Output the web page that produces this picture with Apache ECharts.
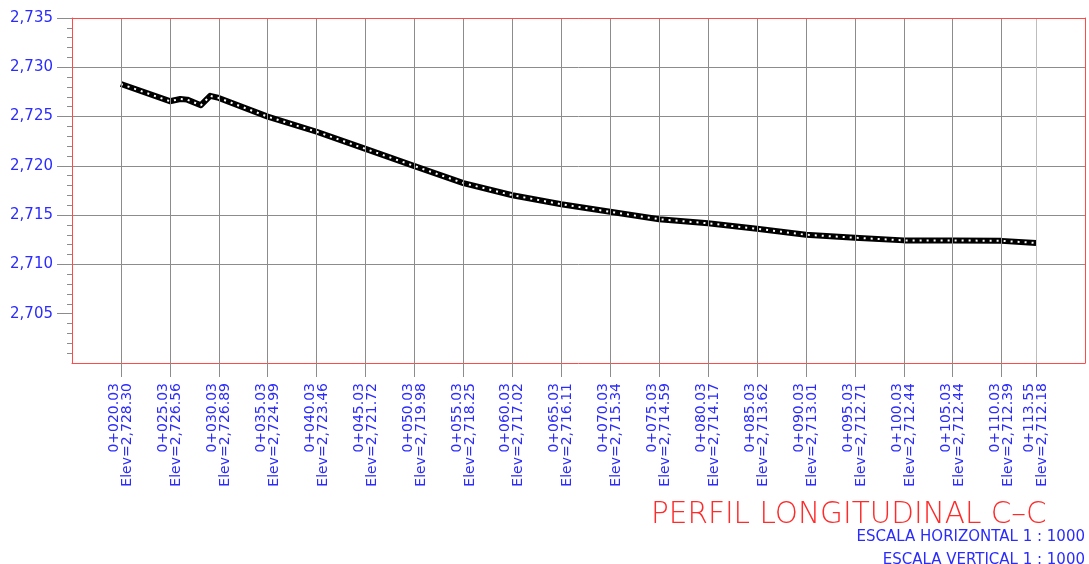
<!DOCTYPE html>
<html>
<head>
<meta charset="utf-8">
<script src="https://cdn.jsdelivr.net/npm/echarts@6/dist/echarts.min.js"></script>
<style>
  html, body { margin: 0; padding: 0; background: #fff; }
  #chart { width: 1089px; height: 564px; }
</style>
</head>
<body>
<div id="chart"></div>
<script>
// stations (m) and labels along the profile
const stations = [20.03, 25.03, 30.03, 35.03, 40.03, 45.03, 50.03, 55.03, 60.03, 65.03,
  70.03, 75.03, 80.03, 85.03, 90.03, 95.03, 100.03, 105.03, 110.03, 113.55];
const stationLabels = ['0+020.03', '0+025.03', '0+030.03', '0+035.03', '0+040.03', '0+045.03',
  '0+050.03', '0+055.03', '0+060.03', '0+065.03', '0+070.03', '0+075.03', '0+080.03',
  '0+085.03', '0+090.03', '0+095.03', '0+100.03', '0+105.03', '0+110.03', '0+113.55'];
const elevLabels = ['2,728.30', '2,726.56', '2,726.89', '2,724.99', '2,723.46', '2,721.72',
  '2,719.98', '2,718.25', '2,717.02', '2,716.11', '2,715.34', '2,714.59', '2,714.17',
  '2,713.62', '2,713.01', '2,712.71', '2,712.44', '2,712.44', '2,712.39', '2,712.18'];

// ground profile (station, elevation)
const profileX = [20.03, 25.03, 26.1, 26.8, 28.2, 29.15, 30.03, 35.03, 40.03, 45.03, 50.03,
  55.03, 60.03, 65.03, 70.03, 75.03, 80.03, 85.03, 90.03, 95.03, 100.03, 105.03, 110.03, 113.55];
const profileY = [2728.30, 2726.56, 2726.78, 2726.72, 2726.15, 2727.10, 2726.89, 2724.99,
  2723.46, 2721.72, 2719.98, 2718.25, 2717.02, 2716.11, 2715.34, 2714.59, 2714.17, 2713.62,
  2713.01, 2712.71, 2712.44, 2712.44, 2712.39, 2712.18];

const yTicks = [2705, 2710, 2715, 2720, 2725, 2730, 2735];

const profile = profileX.map((x, i) => [x, profileY[i]]);

const RED = '#ff4a4a';
const BLUE = '#2b2bff';
const GRID = '#8c8c8c';
const FONT = 'DejaVu Sans';

const chart = echarts.init(document.getElementById('chart'), null, { renderer: 'canvas' });

// last station line is lighter; the 2,700 line is the frame itself
const vColors = stations.map((s, i) => i === stations.length - 1 ? '#bdbdbd' : GRID);
const hColors = ['rgba(0,0,0,0)', GRID, GRID, GRID, GRID, GRID, GRID, GRID];

chart.setOption({
  animation: false,
  backgroundColor: '#fff',
  title: [
    {
      text: 'PERFIL LONGITUDINAL C–C',
      left: 651, top: 500, padding: 0,
      textStyle: { color: '#ff2a2a', fontFamily: FONT, fontWeight: 200, fontSize: 29.5 }
    },
    {
      text: 'ESCALA HORIZONTAL 1 : 1000',
      right: 4, top: 530, padding: 0,
      textStyle: { color: BLUE, fontFamily: FONT, fontWeight: 'normal', fontSize: 15 }
    },
    {
      text: 'ESCALA VERTICAL 1 : 1000',
      right: 4, top: 553, padding: 0,
      textStyle: { color: BLUE, fontFamily: FONT, fontWeight: 'normal', fontSize: 15 }
    }
  ],
  grid: { left: 72, top: 18, right: 4, bottom: 201, containLabel: false },
  xAxis: [
    {
      type: 'value', position: 'bottom', z: 10,
      min: 15.03, max: 118.55,
      axisLine: { show: true, onZero: false, lineStyle: { color: RED, width: 1 } },
      axisTick: { show: true, customValues: stations, length: 14, lineStyle: { color: GRID } },
      axisLabel: {
        customValues: stations, rotate: 90, margin: 20,
        color: BLUE, fontFamily: FONT, fontSize: 14, lineHeight: 13,
        formatter: function (v) {
          let k = 0;
          stations.forEach((s, i) => { if (Math.abs(s - v) < Math.abs(stations[k] - v)) k = i; });
          return stationLabels[k] + '\nElev=' + elevLabels[k];
        }
      },
      splitLine: { show: true, lineStyle: { color: vColors, width: 1 } }
    },
    {
      type: 'value', position: 'top',
      min: 15.03, max: 118.55, z: 10,
      axisLine: { show: true, onZero: false, lineStyle: { color: RED, width: 1 } },
      axisTick: { show: false }, axisLabel: { show: false }, splitLine: { show: false }
    }
  ],
  yAxis: [
    {
      type: 'value', position: 'left',
      min: 2700, max: 2735, interval: 5,
      axisLine: { show: true, onZero: false, lineStyle: { color: RED, width: 1 } },
      axisTick: { show: true, customValues: yTicks, length: 15, lineStyle: { color: GRID } },
      minorTick: { show: true, splitNumber: 5, length: 5, lineStyle: { color: GRID } },
      axisLabel: {
        customValues: yTicks, margin: 19,
        color: BLUE, fontFamily: FONT, fontSize: 15,
        formatter: v => Math.floor(v / 1000) + ',' + String(v % 1000).padStart(3, '0')
      },
      splitLine: { show: true, lineStyle: { color: hColors, width: 1 } }
    },
    {
      type: 'value', position: 'right',
      min: 2700, max: 2735, z: 10,
      axisLine: { show: true, onZero: false, lineStyle: { color: RED, width: 1 } },
      axisTick: { show: false }, axisLabel: { show: false }, splitLine: { show: false }
    }
  ],
  series: [
    {
      type: 'line', data: profile, xAxisIndex: 0, yAxisIndex: 0,
      symbol: 'none', z: 5,
      lineStyle: { color: '#000', width: 6, cap: 'butt', join: 'round' }
    },
    {
      type: 'line', data: profile, xAxisIndex: 0, yAxisIndex: 0,
      symbol: 'none', z: 6,
      lineStyle: { color: '#fff', width: 2, type: [2, 5], cap: 'butt' }
    }
  ]
});
</script>
</body>
</html>
